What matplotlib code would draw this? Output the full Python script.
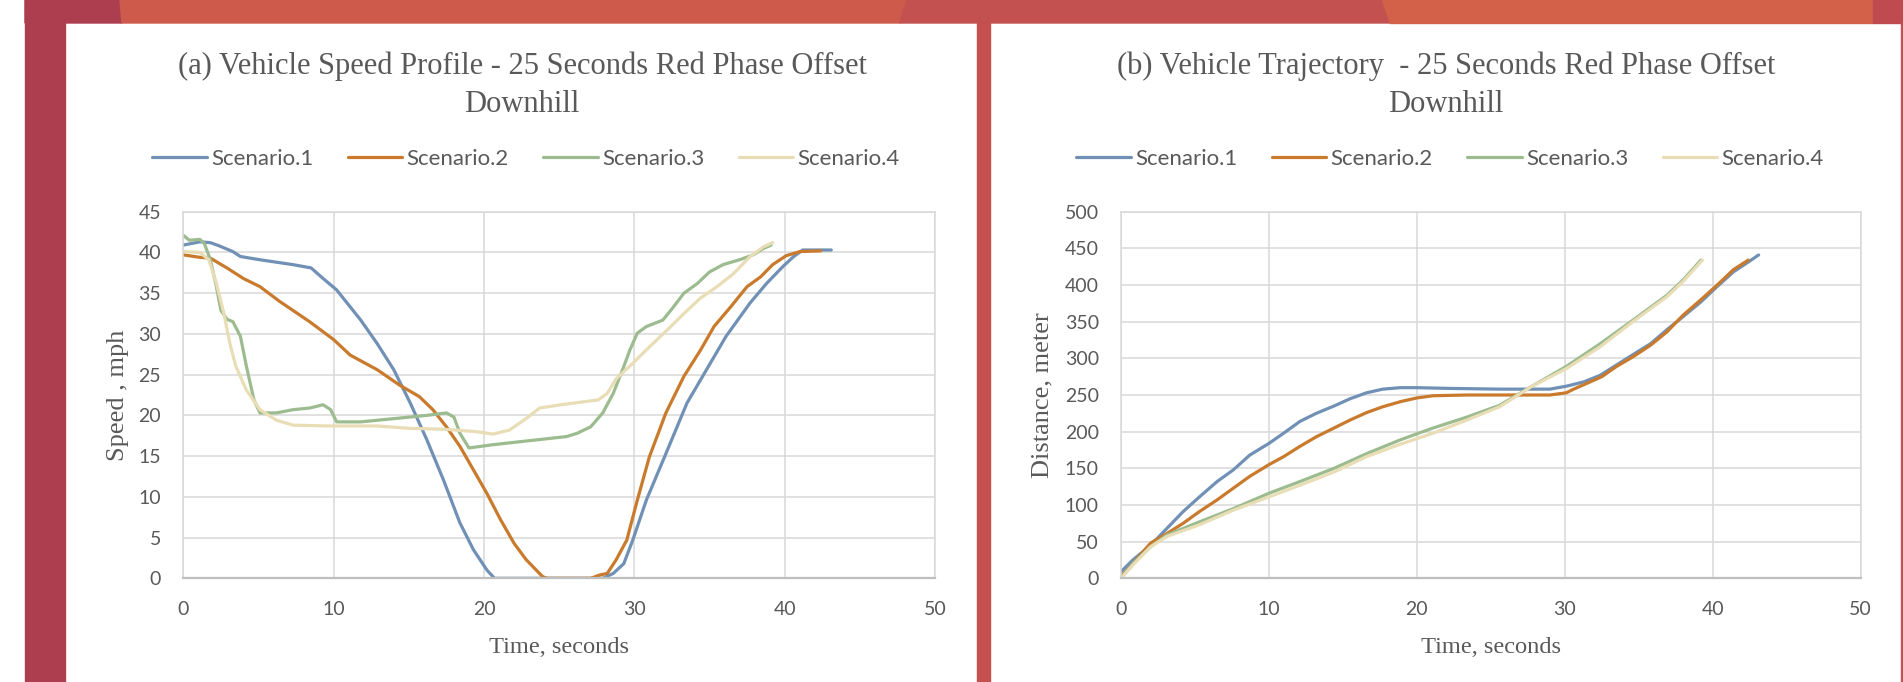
import matplotlib
matplotlib.use("Agg")
import matplotlib.pyplot as plt
from matplotlib.patches import Polygon, Rectangle

# Speed profile (mph) against time (s)
t_speed_1 = [0, 1.1, 1.8, 2.4, 3.3, 3.8, 5.1, 7.3, 8.5, 9.3, 10.2, 11.8, 12.9, 14.0, 15.1,
             16.2, 17.3, 18.4, 19.3, 20.2, 20.7, 27.9, 28.6, 29.3, 29.9, 30.8, 32.1, 33.5,
             34.8, 36.1, 37.7, 38.8, 39.9, 40.6, 41.2, 42.1, 43.1]
speed_1 = [40.9, 41.3, 41.2, 40.8, 40.1, 39.5, 39.1, 38.5, 38.1, 36.8, 35.4, 31.7, 28.8, 25.6, 21.5,
           17.0, 12.1, 6.8, 3.5, 1.0, 0, 0, 0.6, 1.8, 4.7, 9.6, 15.3, 21.5,
           25.6, 29.7, 33.8, 36.2, 38.3, 39.5, 40.3, 40.3, 40.3]

t_speed_2 = [0, 1.1, 1.8, 2.9, 4.0, 5.1, 6.4, 8.4, 10.0, 11.1, 12.9, 14.4, 15.7, 16.6, 17.5,
             18.4, 19.3, 20.2, 21.1, 22.0, 22.8, 23.9, 24.2, 27.1, 27.7, 28.2, 28.8, 29.5,
             30.2, 31.0, 32.1, 33.3, 34.4, 35.3, 36.4, 37.5, 38.4, 39.2, 40.1, 41.0, 42.4]
speed_2 = [39.7, 39.4, 39.3, 38.1, 36.8, 35.8, 34.0, 31.5, 29.3, 27.4, 25.6, 23.7, 22.3, 20.7, 18.6,
           16.2, 13.3, 10.4, 7.2, 4.3, 2.3, 0.2, 0, 0, 0.4, 0.6, 2.3, 4.7,
           9.6, 14.9, 20.3, 24.8, 28.0, 30.9, 33.3, 35.8, 37.0, 38.5, 39.6, 40.1, 40.2]

t_speed_3 = [0, 0.4, 1.1, 1.4, 1.8, 2.2, 2.5, 2.9, 3.3, 3.8, 4.2, 4.7, 5.1, 6.2, 7.3, 8.4,
             9.3, 9.8, 10.2, 11.8, 14.0, 16.2, 17.5, 18.0, 18.4, 19.0, 20.6, 25.5, 26.2,
             27.1, 27.9, 28.6, 29.3, 29.7, 30.2, 30.8, 31.9, 32.6, 33.3, 34.2, 35.0, 35.9,
             37.0, 37.9, 38.6, 39.1]
speed_3 = [42.1, 41.5, 41.6, 41.1, 39.1, 35.8, 32.9, 31.8, 31.5, 29.7, 26.0, 21.9, 20.3, 20.3, 20.7, 20.9,
           21.3, 20.7, 19.2, 19.2, 19.6, 20.0, 20.3, 19.8, 17.8, 16.0, 16.4, 17.4, 17.8,
           18.6, 20.3, 22.7, 26.0, 28.0, 30.1, 30.9, 31.7, 33.3, 35.0, 36.2, 37.6, 38.5,
           39.1, 39.7, 40.5, 40.9]

t_speed_4 = [0, 1.1, 1.7, 2.2, 2.7, 3.1, 3.5, 4.2, 5.1, 6.2, 7.3, 9.5, 12.9, 15.1, 17.3,
             19.5, 20.6, 21.7, 22.8, 23.7, 25.1, 27.6, 28.2, 28.8, 29.9, 31.0, 32.2, 33.3,
             34.4, 35.5, 36.6, 37.7, 38.6, 39.2]
speed_4 = [40.1, 40.0, 39.1, 36.2, 32.5, 28.8, 26.0, 23.1, 20.7, 19.4, 18.8, 18.7, 18.7, 18.4, 18.3,
           18.0, 17.7, 18.2, 19.6, 20.9, 21.3, 21.9, 22.7, 24.5, 26.4, 28.4, 30.5, 32.5,
           34.4, 35.8, 37.4, 39.5, 40.7, 41.2]

# Trajectory (distance, m) against time (s)
t_dist_1 = [0, 0.8, 2.0, 3.1, 4.2, 5.3, 6.5, 7.6, 8.7, 10.0, 11.0, 12.1, 13.2, 14.4, 15.5,
            16.6, 17.7, 18.9, 20.0, 22.2, 25.6, 29.0, 30.1, 31.3, 32.4, 33.5, 34.6, 35.8,
            36.9, 38.0, 39.2, 40.3, 41.4, 42.3, 43.1]
dist_1 = [9, 25, 45, 68, 91, 111, 132, 148, 168, 184, 198, 214, 225, 235, 245,
          253, 258, 260, 260, 259, 258, 258, 262, 268, 277, 291, 305, 320,
          339, 357, 377, 398, 418, 430, 441]

t_dist_2 = [0, 0.8, 2.0, 3.1, 4.2, 5.3, 6.5, 7.6, 8.7, 10.0, 11.0, 12.1, 13.2, 14.4, 15.5,
            16.6, 17.7, 18.9, 20.0, 21.1, 23.4, 29.0, 30.1, 30.6, 31.5, 32.5, 33.5, 34.6,
            35.8, 36.9, 38.0, 39.2, 40.3, 41.4, 42.4]
dist_2 = [2, 20, 48, 61, 75, 91, 107, 123, 139, 155, 166, 180, 193, 205, 216,
          226, 234, 241, 246, 249, 250, 250, 253, 258, 266, 275, 289, 302,
          318, 336, 359, 380, 400, 421, 434]

t_dist_3 = [0, 0.8, 2.0, 3.1, 4.2, 5.3, 7.6, 10.0, 12.1, 14.4, 16.6, 18.9, 21.1, 23.4,
            25.6, 27.7, 30.1, 32.4, 34.6, 36.9, 38.0, 39.2]
dist_3 = [0, 20, 43, 59, 68, 77, 95, 116, 132, 150, 170, 189, 205, 220,
          236, 261, 289, 320, 352, 386, 407, 434]

t_dist_4 = [0, 0.8, 2.0, 3.1, 5.3, 7.6, 10.0, 12.1, 14.4, 16.6, 18.9, 21.1, 23.4,
            25.6, 27.7, 30.1, 32.4, 34.6, 36.9, 38.0, 39.3]
dist_4 = [0, 18, 43, 57, 73, 93, 111, 127, 145, 166, 183, 198, 216,
          234, 261, 286, 316, 350, 384, 405, 434]

labels = ["Scenario.1", "Scenario.2", "Scenario.3", "Scenario.4"]
colors = ["#7190B5", "#C97A2C", "#9CBC90", "#E8DDB5"]

W, H = 1903, 682
fig = plt.figure(figsize=(W / 100, H / 100), dpi=100)

# slide background: coloured banner, side bar and two white panels
bg = fig.add_axes([0, 0, 1, 1])
bg.set_xlim(0, W)
bg.set_ylim(H, 0)
bg.axis("off")
bg.add_patch(Rectangle((25, 0), 40, H, color="#AD3E50"))
bg.add_patch(Polygon([(25, 0), (120, 0), (122, 23), (25, 23)], color="#AD3E50"))
bg.add_patch(Polygon([(120, 0), (907, 0), (900, 23), (122, 23)], color="#CD5A4A"))
bg.add_patch(Polygon([(907, 0), (1382, 0), (1390, 23), (900, 23)], color="#C25150"))
bg.add_patch(Polygon([(1382, 0), (1873, 0), (1873, 23), (1390, 23)], color="#D3614A"))
bg.add_patch(Rectangle((1873, 0), 30, 23, color="#BF4B50"))
bg.add_patch(Rectangle((977, 23), 13, H, color="#C4514F"))
bg.add_patch(Rectangle((1901, 23), 2, H, color="#C4514F"))

serif = "Liberation Serif"
sans = "Lato"
grey = "#595959"


def draw_panel(rect, title_x, legend_x, ylabel_x, series, title, ylabel, ymax, ystep):
    ax = fig.add_axes(rect)
    for (t, v), lab, col in zip(series, labels, colors):
        ax.plot(t, v, color=col, lw=2.3, label=lab, solid_capstyle="round")
    ax.set_xlim(0, 50)
    ax.set_ylim(0, ymax)
    ax.set_xticks(range(0, 51, 10))
    ax.set_yticks(range(0, ymax + 1, ystep))
    ax.grid(color="#D9D9D9", lw=1.1)
    ax.set_axisbelow(True)
    for side in ["top", "right", "left"]:
        ax.spines[side].set_color("#D9D9D9")
        ax.spines[side].set_linewidth(1.1)
    ax.spines["bottom"].set_color("#BFBFBF")
    ax.spines["bottom"].set_linewidth(1.6)
    ax.tick_params(length=0, labelsize=14, labelcolor=grey, pad=16)
    for lbl in ax.get_xticklabels() + ax.get_yticklabels():
        lbl.set_fontfamily(sans)
    ax.set_xlabel("Time, seconds", fontfamily=serif, fontsize=17.6, color=grey, labelpad=14)
    ax.set_ylabel(ylabel, fontfamily=serif, fontsize=19, color=grey)
    ax.yaxis.set_label_coords(ylabel_x / W, 0.5, transform=fig.transFigure)
    ax.yaxis.label.set_verticalalignment("center")
    ax.yaxis.label.set_y(1 - 395 / H)
    fig.text(title_x / W, 1 - 85 / H, title, ha="center", va="center",
             fontfamily=serif, fontsize=22, color=grey, linespacing=1.42)
    ax.legend(loc="center", bbox_to_anchor=(legend_x / W, 1 - 159 / H),
              bbox_transform=fig.transFigure, ncol=4, frameon=False,
              prop={"family": sans, "size": 16}, labelcolor=grey,
              handlelength=2.45, handletextpad=0.2, columnspacing=1.55)
    return ax


draw_panel([183.3 / W, 1 - 578.3 / H, (935 - 183.3) / W, 366.6 / H], 522, 526, 118,
           [(t_speed_1, speed_1), (t_speed_2, speed_2), (t_speed_3, speed_3), (t_speed_4, speed_4)],
           "(a) Vehicle Speed Profile - 25 Seconds Red Phase Offset\nDownhill",
           "Speed , mph", 45, 5)
draw_panel([1121 / W, 1 - 578.3 / H, (1860.7 - 1121) / W, 366.6 / H], 1446, 1450, 1042,
           [(t_dist_1, dist_1), (t_dist_2, dist_2), (t_dist_3, dist_3), (t_dist_4, dist_4)],
           "(b) Vehicle Trajectory  - 25 Seconds Red Phase Offset\nDownhill",
           "Distance, meter", 500, 50)

fig.savefig("out.png", dpi=100)
